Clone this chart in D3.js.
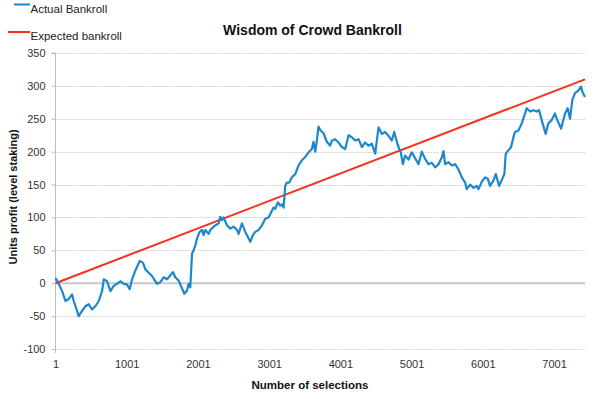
<!DOCTYPE html>
<html><head><meta charset="utf-8">
<script src="https://cdn.jsdelivr.net/npm/d3@7"></script>
<style>
html,body{margin:0;padding:0;background:#fff;}
text{font-family:"Liberation Sans",Arial,sans-serif;}
</style></head>
<body><svg id="c" width="600" height="399"></svg>
<script>
const title = "Wisdom of Crowd Bankroll";
const xTitle = "Number of selections";
const yTitle = "Units profit (level staking)";
const seriesNames = ["Actual Bankroll", "Expected bankroll"];
const xTickValues = [1, 1001, 2001, 3001, 4001, 5001, 6001, 7001];
const yTickValues = [-100, -50, 0, 50, 100, 150, 200, 250, 300, 350];

const actualX = [1,47,94,140,187,234,257,304,327,374,421,468,514,561,608,655,678,725,772,818,865,912,959,1005,1043,1076,1122,1183,1230,1263,1310,1356,1426,
1473,1520,1567,1614,1650,1683,1730,1763,1810,1848,1871,1894,1918,1941,1965,1988,2025,2058,2081,2104,2151,2175,2221,2245,2292,2315,2338,2362,2408,2455,2502,2549,2572,2619,2666,2713,2736,2773,2806,2853,2900,2947,
2993,3040,3063,3087,3124,3157,3180,3204,3227,3250,3283,3321,3368,3414,3461,3508,3555,3601,3624,3648,3671,3694,3718,3765,3811,
3858,3882,3928,3975,4022,4069,4116,4162,4209,4256,4303,4349,4396,4443,4490,4537,4583,4630,4677,4724,4757,4784,4817,4850,4878,4911,4958,5004,5051,5098,5144,5191,5238,5285,5332,5379,5425,5449,5472,5519,5566,5613,5659,5706,5753,5776,5823,5870,5916,5940,5986,6033,6070,6103,6150,6183,6230,6276,6304,6323,6360,6398,6431,6454,6501,6548,6594,6618,6665,6712,6758,6791,6828,6884,6921,6968,7015,7039,7100,7156,7193,7226,7259,7296,7352,7380,7399,7436];
const actualY = [8,-1,-12,-27,-24,-17,-27,-42,-50,-42,-35,-32,-40,-35,-27,-12,6,3,-12,-4,-1,3,-1,-2,-9,6,19,34,31,21,16,11,-1,
1.5,9,6,12,17,9,4,-4,-16,-11,-1,-6,45,50,58,68,78,81,73,81,75,81,86,88,91,101,96,100,88,83,86,81,75,91,78,68,63,73,78,81,88,98,
100,110,115,113,123,118,120,115,148,153,153,161,166,179,187,192,199,204,215,200,217,238,233,228,215,
209,217,219,214,207,204,225,222,217,219,207,214,209,212,197,237,227,230,224,217,230,219,207,199,181,194,188,199,190,181,200,189,181,183,176,181,191,201,181,184,179,181,173,161,153,143,150,145,148,143,154,161,159,148,156,166,148,159,166,197,202,207,222,230,232,243,258,266,261,263,261,263,248,227,243,248,258,250,235,258,266,250,279,289,294,299,291,283];

const expectedX = [1, 7436];
const expectedY = [0, 310];

const svg = d3.select("#c");
const x = d3.scaleLinear().domain([1, 7436]).range([55.5, 585]);
const y = d3.scaleLinear().domain([-100, 350]).range([349, 53]);

// gridlines
svg.append("g").selectAll("line").data(yTickValues.filter(v => v !== 0)).join("line")
  .attr("x1", 55.5).attr("x2", 585).attr("y1", d => Math.round(y(d)) + 0.5).attr("y2", d => Math.round(y(d)) + 0.5)
  .attr("stroke", "#d4d4d4").attr("stroke-width", 1).attr("stroke-dasharray", "2,1");

// y axis
const yAxis = d3.axisLeft(y).tickValues(yTickValues).tickSize(4).tickPadding(6).tickFormat(d => String(d));
const gy = svg.append("g").attr("transform", "translate(55.5,0)").call(yAxis);
gy.select(".domain").attr("stroke", "#bdbdbd").attr("d", `M-4,${y(350)}H0V${y(-100)}`);
gy.selectAll(".tick line").attr("stroke", "#bdbdbd");
gy.selectAll(".tick text").attr("font-size", 11).attr("fill", "#333").attr("font-family", "Liberation Sans, Arial, sans-serif");

// zero line (horizontal axis)
svg.append("line").attr("x1", 55.5).attr("x2", 585).attr("y1", y(0)).attr("y2", y(0))
  .attr("stroke", "#c8c8c8").attr("stroke-width", 2);

// x axis labels at bottom
const xAxis = d3.axisBottom(x).tickValues(xTickValues).tickSize(0).tickPadding(11).tickFormat(d => String(d));
const gx = svg.append("g").attr("transform", `translate(0,${y(-100)})`).call(xAxis);
gx.select(".domain").remove();
gx.selectAll(".tick text").attr("font-size", 11).attr("fill", "#333").attr("font-family", "Liberation Sans, Arial, sans-serif");
svg.append("line").attr("x1", 55.5).attr("x2", 55.5).attr("y1", y(-100)).attr("y2", y(-100) + 4).attr("stroke", "#bdbdbd");

// lines
const actual = actualX.map((d, i) => [d, actualY[i]]);
const expected = expectedX.map((d, i) => [d, expectedY[i]]);
const line = d3.line().x(d => x(d[0])).y(d => y(d[1]));
svg.append("path").datum(expected).attr("d", line).attr("fill", "none").attr("stroke", "#f5301c").attr("stroke-width", 2);
svg.append("path").datum(actual).attr("d", line).attr("fill", "none").attr("stroke", "#1c87cc").attr("stroke-width", 2.2).attr("stroke-linejoin", "round");

// titles
svg.append("text").attr("x", 312.5).attr("y", 35).attr("text-anchor", "middle").attr("font-size", 14).attr("font-weight", "bold").attr("fill", "#111").text(title);
svg.append("text").attr("x", 310).attr("y", 389).attr("text-anchor", "middle").attr("font-size", 11.5).attr("font-weight", "bold").attr("fill", "#111").text(xTitle);
svg.append("text").attr("transform", "translate(17,197) rotate(-90)").attr("text-anchor", "middle").attr("font-size", 11).attr("font-weight", "bold").attr("fill", "#111").text(yTitle);

// legend
const legColors = ["#1c87cc", "#f5301c"];
const legY = [4.5, 32];
seriesNames.forEach((n, i) => {
  svg.append("line").attr("x1", i === 0 ? 14 : 8).attr("x2", 30).attr("y1", legY[i]).attr("y2", legY[i]).attr("stroke", legColors[i]).attr("stroke-width", 2);
  svg.append("text").attr("x", 30.5).attr("y", legY[i] + 8).attr("font-size", 11.5).attr("fill", "#222").text(n);
});
</script></body></html>
